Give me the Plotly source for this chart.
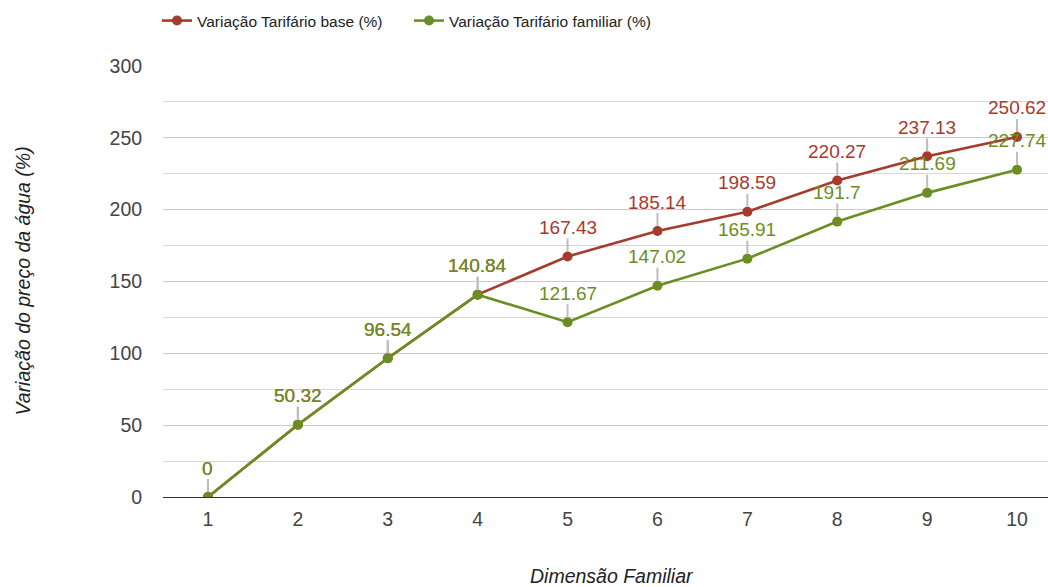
import plotly.graph_objects as go

categories = [1, 2, 3, 4, 5, 6, 7, 8, 9, 10]
base_values = [0, 50.32, 96.54, 140.84, 167.43, 185.14, 198.59, 220.27, 237.13, 250.62]
familiar_values = [0, 50.32, 96.54, 140.84, 121.67, 147.02, 165.91, 191.7, 211.69, 227.74]
base_name = "Variação Tarifário base (%)"
familiar_name = "Variação Tarifário familiar (%)"
x_title = "Dimensão Familiar"
y_title = "Variação do preço da água (%)"
y_ticks = [0, 50, 100, 150, 200, 250, 300]

RED = "#a63a2d"
GREEN = "#6b8e23"
FONT = "Arial, 'Liberation Sans', sans-serif"

W, H = 1048, 587
L, R, T, B = 163, 0, 66, 90
PW, PH = W - L - R, H - T - B
CAT_PX = 89.9

fig = go.Figure()
fig.add_trace(go.Scatter(x=categories, y=base_values, mode="lines+markers", name=base_name,
                         line=dict(color=RED, width=2.6), marker=dict(size=10, color=RED)))
fig.add_trace(go.Scatter(x=categories, y=familiar_values, mode="lines+markers", name=familiar_name,
                         line=dict(color=GREEN, width=2.6), marker=dict(size=10, color=GREEN)))

annotations = []
for vals, col in ((base_values, RED), (familiar_values, GREEN)):
    for xv, yv in zip(categories, vals):
        annotations.append(dict(
            x=xv, y=yv, xref="x", yref="y",
            text=f"{yv:g}", showarrow=True, arrowhead=0, arrowwidth=2,
            arrowcolor="#bdbdbd", ax=0, ay=-29, standoff=5, borderpad=0,
            font=dict(family=FONT, size=19, color=col),
        ))

annotations.append(dict(
    x=(612 - L) / PW, y=-(576 - (T + PH)) / PH, xref="paper", yref="paper",
    text=x_title, showarrow=False, xanchor="center", yanchor="middle",
    font=dict(family=FONT, size=19.5, color="#222222", style="italic"),
))
annotations.append(dict(
    x=-(L - 22) / PW, y=0.5, xref="paper", yref="paper",
    text=y_title, showarrow=False, textangle=-90, xanchor="center", yanchor="middle",
    font=dict(family=FONT, size=19.5, color="#222222", style="italic"),
))

fig.update_layout(
    width=W, height=H,
    margin=dict(l=L, r=R, t=T, b=B, autoexpand=False),
    plot_bgcolor="white", paper_bgcolor="white",
    font=dict(family=FONT, size=19.5, color="#444444"),
    showlegend=True,
    legend=dict(orientation="h", x=-6 / PW, xanchor="left", y=1 + 45 / PH, yanchor="middle",
                font=dict(family=FONT, size=15.5, color="#222222"),
                itemwidth=30, entrywidth=207, entrywidthmode="pixels",
                bgcolor="rgba(0,0,0,0)"),
    annotations=annotations,
)
fig.update_xaxes(
    range=[0.5, 0.5 + PW / CAT_PX], tickmode="array", tickvals=categories,
    ticktext=[str(c) for c in categories], showgrid=False, zeroline=False, showline=False,
    ticks="outside", ticklen=5, tickcolor="rgba(0,0,0,0)",
    tickfont=dict(family=FONT, size=19.5, color="#444444"),
)
fig.update_yaxes(
    range=[0, 300], tickmode="array", tickvals=y_ticks,
    showgrid=True, gridcolor="#cccccc", gridwidth=1,
    minor=dict(dtick=25, tick0=0, showgrid=True, gridcolor="#d6d6d6", gridwidth=1),
    zeroline=True, zerolinecolor="#333333", zerolinewidth=1, showline=False,
    ticks="outside", ticklen=16, tickcolor="rgba(0,0,0,0)",
    tickfont=dict(family=FONT, size=19.5, color="#444444"),
)

# remove the page's default body margin so the figure fills the 1048x587 window exactly
fig.write_html("out.html",
               config={"displayModeBar": False},
               post_script="document.body.style.margin='0';document.body.style.overflow='hidden';")
